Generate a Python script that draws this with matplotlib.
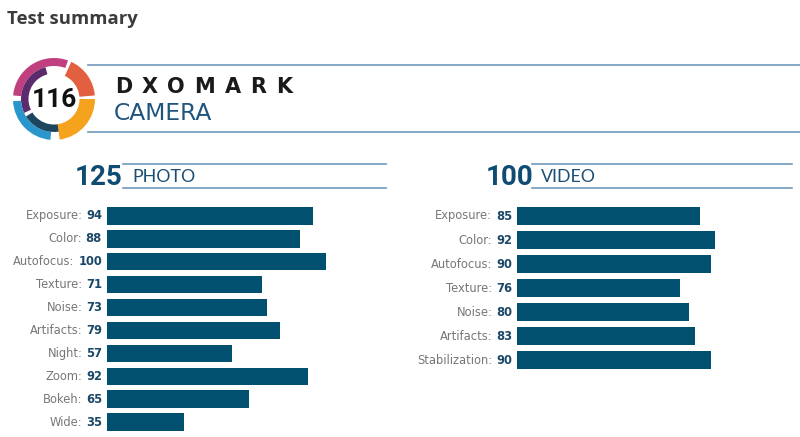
import matplotlib.pyplot as plt
from matplotlib.patches import Wedge, Circle
from matplotlib.transforms import offset_copy

# Sub-scores
photo_labels = ["Exposure", "Color", "Autofocus", "Texture", "Noise",
                "Artifacts", "Night", "Zoom", "Bokeh", "Wide"]
photo_scores = [94, 88, 100, 71, 73, 79, 57, 92, 65, 35]

video_labels = ["Exposure", "Color", "Autofocus", "Texture", "Noise",
                "Artifacts", "Stabilization"]
video_scores = [85, 92, 90, 76, 80, 83, 90]

overall_score = 116
photo_total = 125
video_total = 100

BAR = "#02506f"
VALUE = "#1b4868"
LABEL = "#777777"
RULE = "#6f98b8"
W, H = 800, 437

plt.rcParams["font.family"] = ["DejaVu Sans"]
fig = plt.figure(figsize=(W / 100, H / 100), dpi=100)

# overlay axes in pixel coordinates for the header decorations
deco = fig.add_axes([0, 0, 1, 1])
deco.set_xlim(0, W)
deco.set_ylim(H, 0)
deco.axis("off")

deco.text(7, 24, "Test summary", fontsize=13.3, family="Open Sans",
          weight="bold", color="#3c3c3c", va="baseline", ha="left")

# logo ring (screen angles, y axis is inverted so they are negated)
cx, cy = 54, 99
ring = [
    (70, 175, 41, 8, "#c0407f"),
    (105, 205, 33, 8, "#5b2b6c"),
    (183, 265, 41, 8, "#2a97cc"),
    (212, 300, 33, 8, "#1c4560"),
    (5, 65, 41, 16, "#e2603f"),
    (-82, 0, 41, 16, "#f5a31d"),
]
for a1, a2, r, w, c in ring:
    deco.add_patch(Wedge((cx, cy), r, -a2, -a1, width=w, color=c, lw=0))
deco.add_patch(Circle((cx, cy), 25.5, color="white", lw=0))
deco.text(cx, cy + 1, str(overall_score), fontsize=19, family="Roboto",
          weight="bold", color="#111111", ha="center", va="center")

# header rules
for y in (65, 132):
    deco.plot([88, W], [y, y], color=RULE, lw=1.2)

# DXOMARK wordmark with wide tracking
renderer = fig.canvas.get_renderer()
x = 115
for ch in "DXOMARK":
    t = deco.text(x, 93, ch, fontsize=15, family="DejaVu Sans", weight="bold",
                  color="#1a1a1a", va="baseline", ha="left")
    x += t.get_window_extent(renderer).width + 9.5
deco.text(114, 120, "CAMERA", fontsize=16.8, family="DejaVu Sans",
          color="#1f557d", va="baseline", ha="left")

# section headers
for num, name, nx, lx0, lx1 in [(photo_total, "PHOTO", 122, 123, 386),
                                (video_total, "VIDEO", 533, 532, 792)]:
    deco.text(nx, 185, str(num), fontsize=20, family="Roboto", weight="bold",
              color="#0f4c73", ha="right", va="baseline")
    deco.text(lx0 + 9, 182.5, name, fontsize=12.8, family="Lato",
              color="#1a4f75", ha="left", va="baseline")
    for y in (164, 188):
        deco.plot([lx0, lx1], [y, y], color=RULE, lw=1.2)


def bar_panel(left, unit_px, top, step, labels, scores, value_right):
    n = len(labels)
    height = n * step
    ax = fig.add_axes([left / W, 1 - (top + height) / H,
                       100 * unit_px / W, height / H])
    ax.barh(range(n), scores, height=0.76, color=BAR)
    ax.set_xlim(0, 100)
    ax.set_ylim(n - 0.5, -0.5)
    ax.axis("off")
    tr = offset_copy(ax.get_yaxis_transform(), fig=fig,
                     x=value_right - left, y=0, units="dots")
    for i, (lab, val) in enumerate(zip(labels, scores)):
        vt = ax.text(0, i, str(val), transform=tr, fontsize=8.3, weight="bold",
                     family="DejaVu Sans", color=VALUE, ha="right",
                     va="center")
        ax.annotate(lab + ":", xy=(0, 0.5), xycoords=vt, xytext=(-2.6, 0),
                    textcoords="offset points", fontsize=8.3,
                    family="DejaVu Sans", color=LABEL, ha="right",
                    va="center")
    return ax


bar_panel(107, 2.19, 204.5, 22.9, photo_labels, photo_scores, 102)
bar_panel(517, 2.15, 204, 24, video_labels, video_scores, 512)

fig.savefig("out.png", dpi=100)
